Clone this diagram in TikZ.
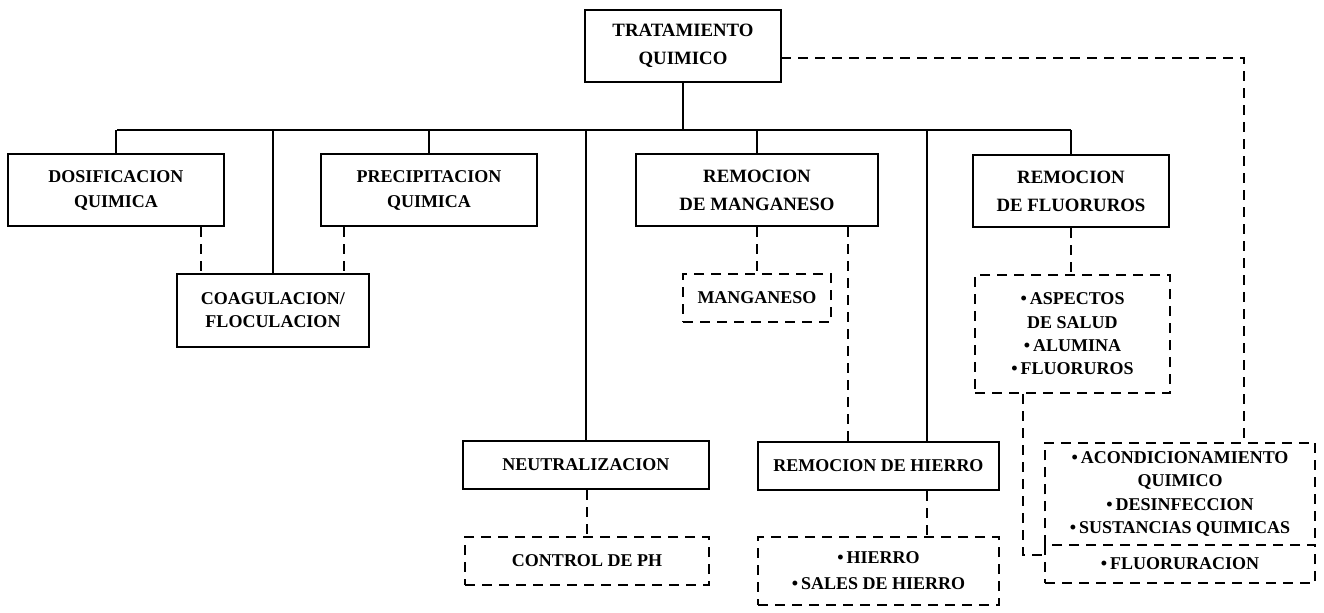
\documentclass[tikz,border=0pt]{standalone}
\usepackage{fontspec}
\setmainfont{Liberation Serif}
\begin{document}
\begin{tikzpicture}[x=0.5pt,y=-0.5pt,
  every node/.style={inner sep=0pt, align=center, font=\bfseries\fontsize{9}{12.5}\selectfont},
  solidbox/.style={draw, line width=1.1pt},
  dashbox/.style={draw, line width=1pt, dash pattern=on 5pt off 3.5pt},
  link/.style={line width=1.1pt},
  dlink/.style={line width=1pt, dash pattern=on 5pt off 3.5pt},
  tall/.style={font=\bfseries\fontsize{9.4}{14}\selectfont},
  list/.style={font=\bfseries\fontsize{9}{11.7}\selectfont}]
\useasboundingbox (0,0) rectangle (1324,612);

% solid boxes
\node[solidbox, tall, minimum width=98pt, minimum height=36pt] (trat) at (683,46) {TRATAMIENTO\\QUIMICO};
\node[solidbox, minimum width=108pt, minimum height=36pt] (dosif) at (116,190) {DOSIFICACION\\QUIMICA};
\node[solidbox, minimum width=108pt, minimum height=36pt] (precip) at (429,190) {PRECIPITACION\\QUIMICA};
\node[solidbox, tall, minimum width=121pt, minimum height=36pt] (mang) at (757,190) {REMOCION\\DE MANGANESO};
\node[solidbox, tall, minimum width=98pt, minimum height=36pt] (fluor) at (1071,191) {REMOCION\\DE FLUORUROS};
\node[solidbox, font=\bfseries\fontsize{9}{11.5}\selectfont, minimum width=96pt, minimum height=36.5pt] (coag) at (273,310.5) {COAGULACION/\\FLOCULACION};
\node[solidbox, minimum width=123pt, minimum height=24pt] (neutr) at (586,465) {NEUTRALIZACION};
\node[solidbox, minimum width=120.5pt, minimum height=24pt] (hierro) at (878.5,466) {REMOCION DE HIERRO};

% dashed boxes
\node[dashbox, minimum width=74pt, minimum height=24pt] (mangbox) at (757,298) {MANGANESO};
\node[dashbox, list, minimum width=97.5pt, minimum height=59pt] (asp) at (1072.5,334) {•\,ASPECTOS\\DE SALUD\\•\,ALUMINA\\•\,FLUORUROS};
\node[dashbox, minimum width=122pt, minimum height=24pt] (ph) at (587,561) {CONTROL DE PH};
\node[dashbox, font=\bfseries\fontsize{9}{13}\selectfont, minimum width=120.5pt, minimum height=34pt] (sales) at (878.5,571) {•\,HIERRO\\•\,SALES DE HIERRO};
\node[list, minimum width=135pt, minimum height=51pt] (acond) at (1180,494) {•\,ACONDICIONAMIENTO\\QUIMICO\\•\,DESINFECCION\\•\,SUSTANCIAS QUIMICAS};
\node[dashbox, minimum width=135pt, minimum height=19pt] (fluorac) at (1180,564) {•\,FLUORURACION};
\draw[dlink] (acond.south west) -- (acond.north west) -- (acond.north east) -- (acond.south east);

% helper coordinates
\coordinate (barL) at (117,130);
\coordinate (barR) at (1071,130);
\coordinate (xhier) at (927,0);
\coordinate (xd1) at (201,0);
\coordinate (xd2) at (344,0);
\coordinate (xd3) at (848,0);
\coordinate (xasp) at (1023,0);
\coordinate (tr) at (781,58);
\coordinate (tc) at (1244,58);
\coordinate (fj) at (1045,555);

% solid tree
\draw[link] (trat.south) -- (trat.south |- barL);
\draw[link] (barL) -- (barR);
\draw[link] (dosif.north) -- (dosif.north |- barL);
\draw[link] (precip.north) -- (precip.north |- barL);
\draw[link] (mang.north) -- (mang.north |- barL);
\draw[link] (fluor.north) -- (fluor.north |- barL);
\draw[link] (coag.north) -- (coag.north |- barL);
\draw[link] (neutr.north) -- (neutr.north |- barL);
\draw[link] (hierro.north -| xhier) -- (barL -| xhier);

% dashed links
\draw[dlink] (dosif.south -| xd1) -- (coag.north -| xd1);
\draw[dlink] (precip.south -| xd2) -- (coag.north -| xd2);
\draw[dlink] (mang.south) -- (mangbox.north);
\draw[dlink] (mang.south -| xd3) -- (hierro.north -| xd3);
\draw[dlink] (fluor.south) -- (asp.north -| fluor.south);
\draw[dlink] (neutr.south -| ph.north) -- (ph.north);
\draw[dlink] (hierro.south -| xhier) -- (sales.north -| xhier);
\draw[dlink] (tr) -- (tc) -- (acond.north -| tc);
\draw[dlink] (asp.south -| xasp) |- (fj);
\end{tikzpicture}
\end{document}
